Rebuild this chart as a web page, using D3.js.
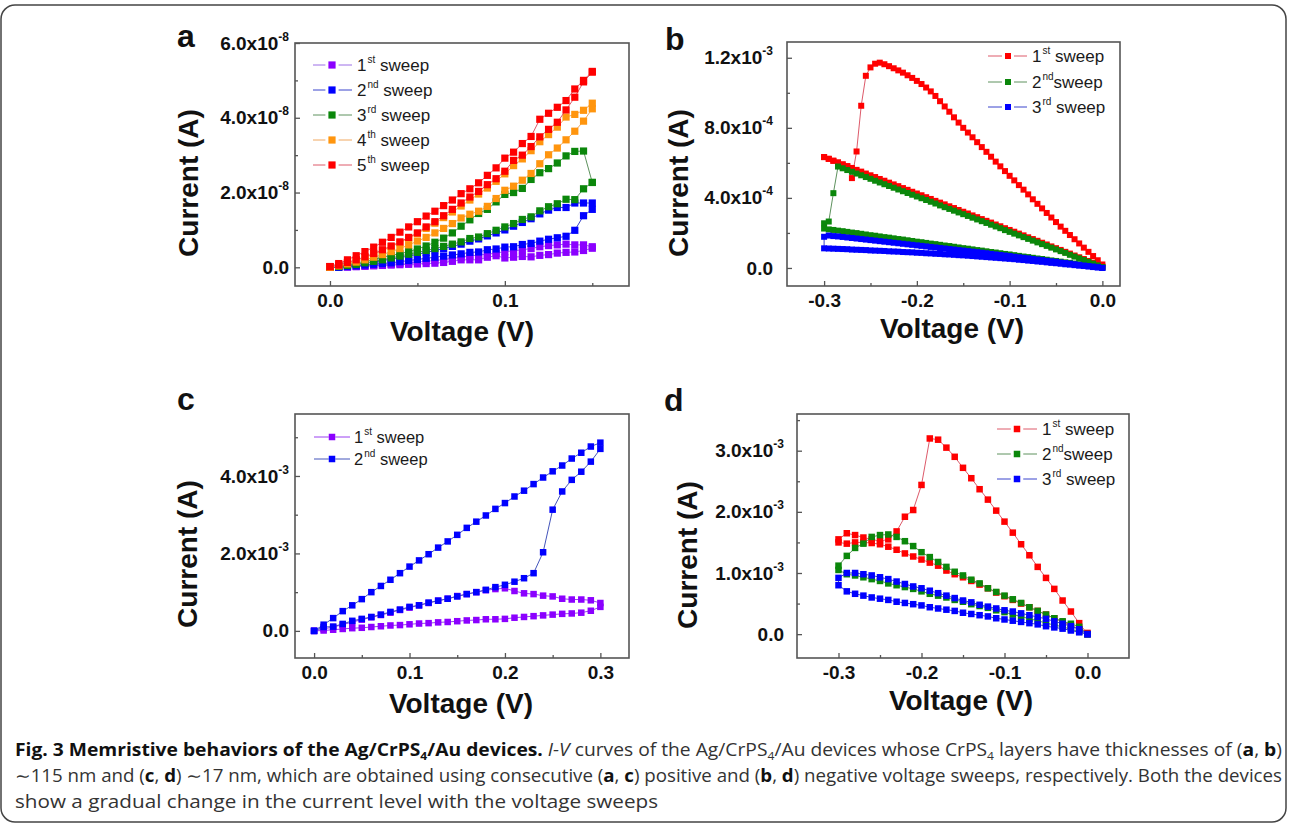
<!DOCTYPE html>
<html>
<head>
<meta charset="utf-8">
<script src="https://cdn.jsdelivr.net/npm/d3@7"></script>
<style>
  body { margin: 0; background: #fff; }
  svg { display: block; font-family: "Liberation Sans", Arial, sans-serif; }
</style>
</head>
<body>
<svg id="fig" width="1290" height="827"></svg>
<script>
// ---- panel a : ~115 nm, positive sweeps (current in 1e-8 A) ----
const aVolts = [0, 0.005, 0.01, 0.015, 0.02, 0.025, 0.03, 0.035, 0.04, 0.045, 0.05, 0.055, 0.06, 0.065, 0.07, 0.075,
  0.08, 0.085, 0.09, 0.095, 0.1, 0.105, 0.11, 0.115, 0.12, 0.125, 0.13, 0.135, 0.14, 0.145, 0.15];
const aPurpleUp = [0, 0, 0.01, 0.02, 0.03, 0.04, 0.05, 0.06, 0.07, 0.08, 0.09, 0.1, 0.11, 0.13, 0.16, 0.2, 0.2, 0.2, 0.27, 0.31, 0.25, 0.27, 0.29, 0.28, 0.32, 0.34, 0.38, 0.4, 0.41, 0.45, 0.51];
const aPurpleDown = [0.55, 0.6, 0.6, 0.62, 0.6, 0.58, 0.55, 0.5, 0.47, 0.44, 0.42, 0.38, 0.35, 0.33, 0.3, 0.27, 0.24, 0.21, 0.18, 0.16, 0.14, 0.12, 0.1, 0.08, 0.06, 0.05, 0.03, 0.02, 0.01, 0, 0];
const aBlueUp = [0, 0, 0.02, 0.04, 0.06, 0.08, 0.1, 0.12, 0.15, 0.18, 0.21, 0.24, 0.27, 0.3, 0.33, 0.36, 0.4, 0.41, 0.47, 0.49, 0.54, 0.55, 0.61, 0.64, 0.7, 0.75, 0.79, 0.83, 0.99, 1.38, 1.55];
const aBlueDown = [1.72, 1.72, 1.72, 1.6, 1.6, 1.53, 1.43, 1.3, 1.2, 1.1, 1.0, 0.92, 0.84, 0.76, 0.7, 0.62, 0.56, 0.5, 0.45, 0.4, 0.35, 0.3, 0.26, 0.22, 0.18, 0.14, 0.1, 0.07, 0.04, 0.02, 0];
const aGreenUp = [0, 0.03, 0.07, 0.11, 0.16, 0.21, 0.27, 0.32, 0.36, 0.42, 0.49, 0.57, 0.67, 0.78, 0.92, 1.1, 1.27, 1.44, 1.55, 1.75, 1.95, 2.0, 2.11, 2.35, 2.53, 2.64, 2.79, 2.98, 3.1, 3.11, 2.27];
const aGreenDown = [2.27, 2.1, 1.81, 1.82, 1.7, 1.62, 1.51, 1.35, 1.28, 1.17, 1.08, 0.99, 0.9, 0.81, 0.77, 0.68, 0.62, 0.56, 0.5, 0.45, 0.4, 0.35, 0.3, 0.25, 0.2, 0.16, 0.12, 0.08, 0.05, 0.02, 0];
const aOrangeUp = [0, 0.04, 0.09, 0.14, 0.2, 0.27, 0.34, 0.42, 0.5, 0.6, 0.7, 0.8, 0.92, 1.04, 1.17, 1.32, 1.42, 1.5, 1.63, 1.84, 2.06, 2.17, 2.33, 2.51, 2.77, 3.01, 3.19, 3.41, 3.64, 3.91, 4.24];
const aOrangeDown = [4.39, 4.2, 4.09, 4.02, 3.75, 3.55, 3.36, 3.12, 2.9, 2.72, 2.5, 2.3, 2.12, 1.96, 1.8, 1.64, 1.48, 1.33, 1.18, 1.04, 0.9, 0.78, 0.66, 0.55, 0.45, 0.35, 0.26, 0.18, 0.11, 0.05, 0];
const aRedUp = [0.02, 0.06, 0.13, 0.2, 0.28, 0.37, 0.47, 0.57, 0.68, 0.8, 0.92, 1.08, 1.22, 1.38, 1.55, 1.72, 1.88, 2.03, 2.21, 2.37, 2.57, 2.86, 3.0, 3.23, 3.49, 3.69, 3.88, 4.21, 4.55, 4.96, 5.22];
const aRedDown = [5.24, 5.0, 4.77, 4.46, 4.28, 4.12, 3.96, 3.5, 3.31, 3.08, 2.92, 2.66, 2.46, 2.26, 2.1, 1.97, 1.8, 1.65, 1.5, 1.37, 1.22, 1.08, 0.94, 0.8, 0.67, 0.54, 0.42, 0.31, 0.2, 0.1, 0.02];

// ---- panel b : ~115 nm, negative sweeps (current in 1e-4 A) ----
const bVolts = [0, -0.005, -0.01, -0.015, -0.02, -0.025, -0.03, -0.035, -0.04, -0.045, -0.05, -0.055, -0.06, -0.065, -0.07,
  -0.075, -0.08, -0.085, -0.09, -0.095, -0.1, -0.105, -0.11, -0.115, -0.12, -0.125, -0.13, -0.135, -0.14, -0.145, -0.15,
  -0.155, -0.16, -0.165, -0.17, -0.175, -0.18, -0.185, -0.19, -0.195, -0.2, -0.205, -0.21, -0.215, -0.22, -0.225, -0.23,
  -0.235, -0.24, -0.245, -0.25, -0.255, -0.26, -0.265, -0.27, -0.275, -0.28, -0.285, -0.29, -0.295, -0.3];
const bRedOut = [0.2, 0.44, 0.68, 0.92, 1.16, 1.4, 1.64, 1.88, 2.12, 2.36,
  2.62, 2.88, 3.14, 3.4, 3.66, 3.92, 4.2, 4.47, 4.73, 5.0,
  5.26, 5.53, 5.8, 6.07, 6.35, 6.63, 6.9, 7.18, 7.46, 7.73,
  8.0, 8.3, 8.6, 8.92, 9.22, 9.52, 9.82, 10.08, 10.3, 10.5,
  10.68, 10.85, 11.0, 11.15, 11.28, 11.4, 11.52, 11.63, 11.72, 11.66,
  11.45, 10.97, 9.26, 6.65, 5.13, 5.81, 5.91, 6.02, 6.12, 6.23, 6.33];
const bRedBack = [6.33, 6.23, 6.12, 6.02, 5.91, 5.81, 5.71, 5.6, 5.5, 5.39,
  5.29, 5.19, 5.08, 4.98, 4.87, 4.77, 4.67, 4.56, 4.46, 4.35,
  4.25, 4.15, 4.04, 3.94, 3.83, 3.73, 3.63, 3.52, 3.42, 3.31,
  3.21, 3.11, 3.0, 2.9, 2.79, 2.69, 2.59, 2.48, 2.38, 2.27,
  2.17, 2.07, 1.96, 1.86, 1.75, 1.65, 1.55, 1.44, 1.34, 1.23,
  1.13, 1.03, 0.92, 0.82, 0.71, 0.61, 0.51, 0.4, 0.3, 0.19, 0.09];
const bGreenOut = [0.05, 0.15, 0.25, 0.35, 0.45, 0.55, 0.65, 0.75, 0.86, 0.96,
  1.06, 1.16, 1.26, 1.36, 1.46, 1.56, 1.66, 1.76, 1.86, 1.96,
  2.06, 2.16, 2.27, 2.37, 2.47, 2.57, 2.67, 2.77, 2.87, 2.97,
  3.07, 3.17, 3.27, 3.37, 3.47, 3.57, 3.68, 3.78, 3.88, 3.98,
  4.08, 4.18, 4.28, 4.38, 4.48, 4.58, 4.68, 4.78, 4.88, 4.98,
  5.09, 5.19, 5.29, 5.39, 5.49, 5.59, 5.69, 5.79, 4.27, 2.65, 2.55];
const bGreenBack = [2.25, 2.2, 2.17, 2.13, 2.1, 2.06, 2.02, 1.99, 1.95, 1.91,
  1.87, 1.84, 1.8, 1.76, 1.73, 1.69, 1.65, 1.62, 1.58, 1.54,
  1.5, 1.47, 1.43, 1.39, 1.36, 1.32, 1.28, 1.25, 1.21, 1.17,
  1.13, 1.1, 1.06, 1.02, 0.99, 0.95, 0.91, 0.88, 0.84, 0.8,
  0.77, 0.73, 0.69, 0.65, 0.62, 0.58, 0.54, 0.51, 0.47, 0.43,
  0.4, 0.36, 0.32, 0.29, 0.25, 0.21, 0.18, 0.14, 0.1, 0.07, 0.03];
const bBlueOut = [0, 0.04, 0.08, 0.11, 0.14, 0.18, 0.21, 0.25, 0.28, 0.31,
  0.35, 0.38, 0.41, 0.45, 0.48, 0.51, 0.55, 0.58, 0.61, 0.64,
  0.68, 0.71, 0.74, 0.77, 0.8, 0.84, 0.87, 0.9, 0.93, 0.96,
  0.99, 1.02, 1.05, 1.08, 1.11, 1.14, 1.17, 1.2, 1.23, 1.26,
  1.29, 1.32, 1.35, 1.38, 1.41, 1.44, 1.47, 1.5, 1.53, 1.56,
  1.59, 1.62, 1.65, 1.68, 1.71, 1.74, 1.77, 1.8, 1.82, 1.85, 1.78];
const bBlueBack = [1.12, 1.11, 1.1, 1.09, 1.08, 1.07, 1.05, 1.04, 1.03, 1.02,
  1.0, 0.99, 0.98, 0.97, 0.95, 0.94, 0.93, 0.91, 0.9, 0.89,
  0.87, 0.86, 0.84, 0.83, 0.81, 0.8, 0.78, 0.77, 0.75, 0.73,
  0.72, 0.7, 0.68, 0.66, 0.64, 0.62, 0.6, 0.58, 0.56, 0.54,
  0.52, 0.5, 0.47, 0.45, 0.42, 0.4, 0.37, 0.35, 0.32, 0.29,
  0.27, 0.24, 0.21, 0.19, 0.16, 0.13, 0.11, 0.08, 0.05, 0.03, 0];

// ---- panel c : ~17 nm, positive sweeps (current in 1e-3 A) ----
const cVolts = [0, 0.01, 0.02, 0.03, 0.04, 0.05, 0.06, 0.07, 0.08, 0.09, 0.1, 0.11, 0.12, 0.13, 0.14, 0.15,
  0.16, 0.17, 0.18, 0.19, 0.2, 0.21, 0.22, 0.23, 0.24, 0.25, 0.26, 0.27, 0.28, 0.29, 0.3];
const cPurpleUp = [0, 0.01, 0.03, 0.05, 0.07, 0.08, 0.1, 0.12, 0.14, 0.15, 0.17, 0.19, 0.2, 0.22, 0.23, 0.25, 0.27, 0.28, 0.3, 0.3, 0.31, 0.34, 0.36, 0.38, 0.4, 0.42, 0.44, 0.45, 0.47, 0.52, 0.62];
const cPurpleDown = [0.72, 0.79, 0.81, 0.81, 0.83, 0.89, 0.91, 0.95, 0.97, 1.03, 1.1, 1.08, 1.05, 1.0, 0.95, 0.9, 0.83, 0.78, 0.72, 0.66, 0.6, 0.54, 0.47, 0.41, 0.35, 0.29, 0.23, 0.16, 0.1, 0.05, 0];
const cBlueUp = [0, 0.1, 0.11, 0.18, 0.26, 0.31, 0.36, 0.42, 0.49, 0.55, 0.62, 0.66, 0.73, 0.78, 0.83, 0.89, 0.95, 1.0, 1.06, 1.13, 1.19, 1.27, 1.36, 1.49, 2.03, 3.13, 3.6, 3.9, 4.11, 4.37, 4.7];
const cBlueDown = [4.86, 4.76, 4.6, 4.45, 4.27, 4.12, 3.96, 3.79, 3.62, 3.47, 3.3, 3.15, 2.98, 2.82, 2.66, 2.48, 2.31, 2.15, 1.98, 1.82, 1.66, 1.49, 1.32, 1.16, 1.0, 0.82, 0.66, 0.51, 0.33, 0.16, 0];

// ---- panel d : ~17 nm, negative sweeps (current in 1e-3 A) ----
const dVolts = [0, -0.01, -0.02, -0.03, -0.04, -0.05, -0.06, -0.07, -0.08, -0.09, -0.1, -0.11, -0.12, -0.13, -0.14, -0.15,
  -0.16, -0.17, -0.18, -0.19, -0.2, -0.21, -0.22, -0.23, -0.24, -0.25, -0.26, -0.27, -0.28, -0.29, -0.3];
const dRedOut = [0, 0.18, 0.37, 0.55, 0.74, 0.92, 1.1, 1.29, 1.47, 1.66, 1.84, 2.02, 2.2, 2.37, 2.55, 2.72, 2.9, 3.05, 3.18, 3.2, 2.44, 2.03, 1.92, 1.68, 1.55, 1.52, 1.55, 1.58, 1.62, 1.65, 1.55];
const dRedBack = [1.5, 1.48, 1.5, 1.5, 1.49, 1.47, 1.43, 1.38, 1.32, 1.27, 1.22, 1.17, 1.12, 1.04, 0.98, 0.93, 0.87, 0.81, 0.75, 0.68, 0.62, 0.56, 0.5, 0.44, 0.38, 0.32, 0.26, 0.2, 0.14, 0.08, 0.02];
const dGreenOut = [0, 0.12, 0.17, 0.21, 0.26, 0.32, 0.38, 0.44, 0.51, 0.57, 0.63, 0.69, 0.75, 0.83, 0.89, 0.96, 1.02, 1.1, 1.18, 1.26, 1.34, 1.44, 1.52, 1.59, 1.63, 1.62, 1.59, 1.48, 1.41, 1.28, 1.12];
const dGreenBack = [1.05, 0.98, 0.96, 0.93, 0.9, 0.87, 0.83, 0.8, 0.77, 0.74, 0.7, 0.66, 0.63, 0.6, 0.56, 0.53, 0.49, 0.46, 0.43, 0.39, 0.36, 0.32, 0.29, 0.25, 0.22, 0.18, 0.15, 0.12, 0.08, 0.04, 0];
const dBlueOut = [0, 0.08, 0.13, 0.17, 0.21, 0.25, 0.28, 0.31, 0.34, 0.37, 0.39, 0.42, 0.45, 0.48, 0.52, 0.55, 0.59, 0.63, 0.67, 0.71, 0.75, 0.78, 0.82, 0.86, 0.9, 0.93, 0.96, 0.98, 1.0, 1.0, 0.92];
const dBlueBack = [0.8, 0.7, 0.66, 0.63, 0.6, 0.58, 0.56, 0.53, 0.51, 0.49, 0.47, 0.44, 0.42, 0.4, 0.38, 0.35, 0.33, 0.31, 0.29, 0.26, 0.24, 0.22, 0.2, 0.18, 0.16, 0.13, 0.11, 0.09, 0.06, 0.03, 0];

// ---- tick values and labels ----
const aXTicks = [0, 0.1], aXMinor = [0.05, 0.15], aXLabels = ["0.0", "0.1"];
const aYTicks = [0, 2, 4, 6], aYMinor = [1, 3, 5];
const aYLabels = ["0.0", "2.0x10", "4.0x10", "6.0x10"], aYExp = ["", "-8", "-8", "-8"];
const bXTicks = [-0.3, -0.2, -0.1, 0], bXMinor = [-0.25, -0.15, -0.05], bXLabels = ["-0.3", "-0.2", "-0.1", "0.0"];
const bYTicks = [0, 4, 8, 12], bYMinor = [2, 6, 10];
const bYLabels = ["0.0", "4.0x10", "8.0x10", "1.2x10"], bYExp = ["", "-4", "-4", "-3"];
const cXTicks = [0, 0.1, 0.2, 0.3], cXMinor = [0.05, 0.15, 0.25], cXLabels = ["0.0", "0.1", "0.2", "0.3"];
const cYTicks = [0, 2, 4], cYMinor = [1, 3, 5];
const cYLabels = ["0.0", "2.0x10", "4.0x10"], cYExp = ["", "-3", "-3"];
const dXTicks = [-0.3, -0.2, -0.1, 0], dXMinor = [-0.25, -0.15, -0.05], dXLabels = ["-0.3", "-0.2", "-0.1", "0.0"];
const dYTicks = [0, 1, 2, 3], dYMinor = [0.5, 1.5, 2.5, 3.5];
const dYLabels = ["0.0", "1.0x10", "2.0x10", "3.0x10"], dYExp = ["", "-3", "-3", "-3"];

const sweepNames5 = [["1", "st", " sweep"], ["2", "nd", " sweep"], ["3", "rd", " sweep"], ["4", "th", " sweep"], ["5", "th", " sweep"]];
const sweepNamesB = [["1", "st", " sweep"], ["2", "nd", "sweep"], ["3", "rd", " sweep"]];
const sweepNamesC = [["1", "st", " sweep"], ["2", "nd", " sweep"]];

const C = {
  purple: "#8b00ff", blue: "#0000ff", green: "#0b870b", orange: "#ff950e", red: "#ff0000",
  lPurple: "#9c6ee6", lBlue: "#3a44cc", lGreen: "#5e925e", lOrange: "#f0a860", lRed: "#dd5a6a"
};

const svg = d3.select("#fig");
const frameCol = "#555";

function loop(volts, out, back) {
  const rev = volts.slice().reverse();
  return volts.map((v, i) => [v, out[i]]).concat(rev.map((v, i) => [v, back[i]]));
}

function drawPanel(p) {
  const x = d3.scaleLinear().domain(p.xDomain).range([p.left, p.right]);
  const y = d3.scaleLinear().domain(p.yDomain).range([p.bottom, p.top]);
  const g = svg.append("g");

  // data: line then symbols, series in order
  p.series.forEach(s => {
    const pts = loop(p.volts, s.out, s.back);
    g.append("path").datum(pts)
      .attr("d", d3.line().x(d => x(d[0])).y(d => y(d[1])))
      .attr("fill", "none").attr("stroke", s.line).attr("stroke-width", 1);
    g.append("g").selectAll("rect").data(pts).join("rect")
      .attr("x", d => x(d[0]) - p.ms / 2)
      .attr("y", d => y(d[1]) - p.ms / 2)
      .attr("width", p.ms).attr("height", p.ms)
      .attr("fill", s.color);
  });

  // frame
  g.append("rect").attr("x", p.left).attr("y", p.top)
    .attr("width", p.right - p.left).attr("height", p.bottom - p.top)
    .attr("fill", "none").attr("stroke", frameCol).attr("stroke-width", 1.6);

  // y axis
  const yAx = g.append("g").attr("transform", `translate(${p.left},0)`)
    .call(d3.axisLeft(y).tickValues(p.yTicks).tickSize(-5).tickPadding(p.yPad).tickFormat((d, i) => p.yLabels[i]));
  yAx.selectAll(".tick text").each(function (d, i) {
    const t = d3.select(this);
    t.text(null);
    t.append("tspan").text(p.yLabels[i]);
    if (p.yExp[i]) t.append("tspan").attr("dy", -9).attr("font-size", 12).text(p.yExp[i]);
  });
  g.append("g").attr("transform", `translate(${p.left},0)`)
    .call(d3.axisLeft(y).tickValues(p.yMinor).tickSize(-3).tickFormat(""));

  // x axis
  g.append("g").attr("transform", `translate(0,${p.bottom})`)
    .call(d3.axisBottom(x).tickValues(p.xTicks).tickSize(-5).tickPadding(8).tickFormat((d, i) => p.xLabels[i]));
  g.append("g").attr("transform", `translate(0,${p.bottom})`)
    .call(d3.axisBottom(x).tickValues(p.xMinor).tickSize(-3).tickFormat(""));

  g.selectAll(".domain").remove();
  g.selectAll(".tick line").attr("stroke", frameCol).attr("stroke-width", 1.3);
  g.selectAll(".tick text").attr("fill", "#111").attr("font-size", 19)
    .attr("font-weight", "bold").attr("font-family", "Liberation Sans, Arial, sans-serif");

  // axis titles
  g.append("text").attr("transform", `translate(${p.yTitleX},${p.yTitleY}) rotate(-90)`)
    .attr("text-anchor", "middle").attr("font-size", 28).attr("font-weight", "bold").attr("fill", "#111")
    .text("Current (A)");
  g.append("text").attr("x", p.xTitleX).attr("y", p.xTitleY)
    .attr("text-anchor", "middle").attr("font-size", 28).attr("font-weight", "bold").attr("fill", "#111")
    .text("Voltage (V)");

  // panel letter
  g.append("text").attr("x", p.letterX).attr("y", p.letterY)
    .attr("font-size", 32).attr("font-weight", "bold").attr("fill", "#111").text(p.letter);

  // legend
  const L = p.legend;
  p.series.forEach((s, i) => {
    const ly = L.ys[i];
    const half = p.ms / 2 + (L.solid ? 0 : 3);
    g.append("line").attr("x1", L.x1).attr("x2", L.mx - half).attr("y1", ly).attr("y2", ly)
      .attr("stroke", s.line).attr("stroke-width", 1);
    g.append("line").attr("x1", L.mx + half).attr("x2", L.x2).attr("y1", ly).attr("y2", ly)
      .attr("stroke", s.line).attr("stroke-width", 1);
    g.append("rect").attr("x", L.mx - p.ms / 2).attr("y", ly - p.ms / 2)
      .attr("width", p.ms).attr("height", p.ms).attr("fill", s.color);
    const nm = L.names[i];
    const t = g.append("text").attr("x", L.tx).attr("y", ly + L.fs * 0.36)
      .attr("font-size", L.fs).attr("fill", "#1a1a1a");
    t.append("tspan").text(nm[0]);
    t.append("tspan").attr("font-size", 10).attr("dy", -8).attr("dx", 1).text(nm[1]);
    t.append("tspan").attr("dy", 8).text(nm[2]);
  });
}

// outer rounded frame
svg.append("rect").attr("x", 1).attr("y", 5).attr("width", 1285).attr("height", 817)
  .attr("rx", 14).attr("fill", "none").attr("stroke", "#444").attr("stroke-width", 1.5);

drawPanel({
  letter: "a", letterX: 177, letterY: 47,
  left: 295, right: 629, top: 43, bottom: 286,
  xDomain: [-0.02, 0.171], yDomain: [-0.5, 6.0], ms: 7.2, yPad: 6,
  volts: aVolts,
  series: [
    { out: aPurpleUp, back: aPurpleDown, color: C.purple, line: C.lPurple },
    { out: aBlueUp, back: aBlueDown, color: C.blue, line: C.lBlue },
    { out: aGreenUp, back: aGreenDown, color: C.green, line: C.lGreen },
    { out: aOrangeUp, back: aOrangeDown, color: C.orange, line: C.lOrange },
    { out: aRedUp, back: aRedDown, color: C.red, line: C.lRed }
  ],
  xTicks: aXTicks, xMinor: aXMinor, xLabels: aXLabels,
  yTicks: aYTicks, yMinor: aYMinor, yLabels: aYLabels, yExp: aYExp,
  yTitleX: 198, yTitleY: 183, xTitleX: 462, xTitleY: 341,
  legend: { ys: [65, 90, 115, 140, 165], x1: 313, x2: 352, mx: 332, tx: 357, fs: 17, names: sweepNames5 }
});

drawPanel({
  letter: "b", letterX: 665, letterY: 50,
  left: 787, right: 1120, top: 42, bottom: 286,
  xDomain: [-0.34, 0.019], yDomain: [-1.03, 12.9], ms: 6, yPad: 14,
  volts: bVolts,
  series: [
    { out: bRedOut, back: bRedBack, color: C.red, line: C.lRed },
    { out: bGreenOut, back: bGreenBack, color: C.green, line: C.lGreen },
    { out: bBlueOut, back: bBlueBack, color: C.blue, line: C.lBlue }
  ],
  xTicks: bXTicks, xMinor: bXMinor, xLabels: bXLabels,
  yTicks: bYTicks, yMinor: bYMinor, yLabels: bYLabels, yExp: bYExp,
  yTitleX: 688, yTitleY: 183, xTitleX: 952, xTitleY: 338,
  legend: { ys: [56, 82, 107], x1: 988, x2: 1027, mx: 1008, tx: 1032, fs: 17, names: sweepNamesB }
});

drawPanel({
  letter: "c", letterX: 177, letterY: 410,
  left: 295, right: 629, top: 414, bottom: 658,
  xDomain: [-0.02, 0.33], yDomain: [-0.7, 5.6], ms: 6.5, yPad: 6,
  volts: cVolts,
  series: [
    { out: cPurpleUp, back: cPurpleDown, color: C.purple, line: "#9a40f0" },
    { out: cBlueUp, back: cBlueDown, color: C.blue, line: "#4455bb" }
  ],
  xTicks: cXTicks, xMinor: cXMinor, xLabels: cXLabels,
  yTicks: cYTicks, yMinor: cYMinor, yLabels: cYLabels, yExp: cYExp,
  yTitleX: 197, yTitleY: 554, xTitleX: 461, xTitleY: 713,
  legend: { ys: [437, 459], x1: 314, x2: 350, mx: 332, tx: 354, fs: 16.5, solid: true, names: sweepNamesC }
});

drawPanel({
  letter: "d", letterX: 664, letterY: 411,
  left: 797, right: 1129, top: 414, bottom: 658,
  xDomain: [-0.35, 0.05], yDomain: [-0.39, 3.6], ms: 6.5, yPad: 13,
  volts: dVolts,
  series: [
    { out: dRedOut, back: dRedBack, color: C.red, line: C.lRed },
    { out: dGreenOut, back: dGreenBack, color: C.green, line: C.lGreen },
    { out: dBlueOut, back: dBlueBack, color: C.blue, line: C.lBlue }
  ],
  xTicks: dXTicks, xMinor: dXMinor, xLabels: dXLabels,
  yTicks: dYTicks, yMinor: dYMinor, yLabels: dYLabels, yExp: dYExp,
  yTitleX: 697, yTitleY: 555, xTitleX: 961, xTitleY: 710,
  legend: { ys: [429, 454, 479], x1: 997, x2: 1037, mx: 1017, tx: 1042, fs: 17, names: sweepNamesB }
});

// ---- caption ----
const capFont = "'Open Sans', 'DejaVu Sans', sans-serif";
const capLines = [
  [["Fig. 3 Memristive behaviors of the Ag/CrPS", "b"], ["4", "bs"], ["/Au devices.", "b"], [" ", "n"], ["I-V", "i"],
   [" curves of the Ag/CrPS", "n"], ["4", "s"], ["/Au devices whose CrPS", "n"], ["4", "s"],
   [" layers have thicknesses of (", "n"], ["a", "b"], [", ", "n"], ["b", "b"], [")", "n"]],
  [["\u223C115 nm and (", "n"], ["c", "b"], [", ", "n"], ["d", "b"], [") \u223C17 nm, which are obtained using consecutive (", "n"],
   ["a", "b"], [", ", "n"], ["c", "b"], [") positive and (", "n"], ["b", "b"], [", ", "n"], ["d", "b"],
   [") negative voltage sweeps, respectively. Both the devices", "n"]],
  [["show a gradual change in the current level with the voltage sweeps", "n"]]
];
const capY = [756, 782, 808];
const capW = [1267, 1267, 643];
capLines.forEach((parts, li) => {
  const t = svg.append("text").attr("x", 15).attr("y", capY[li])
    .attr("font-family", capFont).attr("font-size", 17.5).attr("fill", "#333")
    .attr("textLength", capW[li]).attr("lengthAdjust", "spacingAndGlyphs");
  let sub = false;
  parts.forEach(([txt, st]) => {
    const ts = t.append("tspan").text(txt);
    if (st === "b" || st === "bs") ts.attr("font-weight", "bold").attr("fill", "#111");
    if (st === "i") ts.attr("font-style", "italic");
    if (st === "s" || st === "bs") { ts.attr("font-size", 11).attr("dy", 4); sub = true; }
    else if (sub) { ts.attr("dy", -4); sub = false; }
  });
});
</script>
</body>
</html>
